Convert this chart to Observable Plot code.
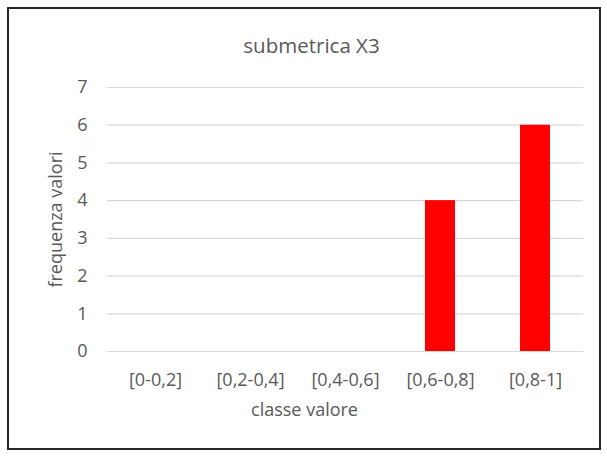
<!DOCTYPE html>
<html>
<head>
<meta charset="utf-8">
<script src="https://cdn.jsdelivr.net/npm/d3@7"></script>
<script src="https://cdn.jsdelivr.net/npm/@observablehq/plot@0.6"></script>
<style>
  html, body { margin: 0; padding: 0; background: #fff; }
  #wrap { position: relative; width: 607px; height: 457px; overflow: hidden; }
  #frame { position: absolute; left: 7px; top: 7px; width: 590px; height: 439px; border: 2px solid #262626; box-sizing: content-box; pointer-events: none; }
  #title { position: absolute; left: 8px; width: 607px; top: 30px; text-align: center; font-family: "Open Sans", sans-serif; font-size: 20.5px; line-height: 30px; color: #595959; }
  #chart { position: absolute; left: 0; top: 0; }
  #chart svg text { font-size: 18px; fill: #595959; }
</style>
</head>
<body>
<div id="wrap">
  <div id="chart"></div>
  <div id="title">submetrica X3</div>
  <div id="frame"></div>
</div>
<script>
const categories = ["[0-0,2]", "[0,2-0,4]", "[0,4-0,6]", "[0,6-0,8]", "[0,8-1]"];
const values = [0, 0, 0, 4, 6];
const yTicks = [0, 1, 2, 3, 4, 5, 6, 7];
const title = "submetrica X3";
const xLabel = "classe valore";
const yLabel = "frequenza valori";

const data = categories.map((c, i) => ({cat: c, val: values[i]}));

const chart = Plot.plot({
  width: 607,
  height: 457,
  marginTop: 87,
  marginBottom: 106,
  marginLeft: 107,
  marginRight: 24,
  style: {fontFamily: "'Open Sans', sans-serif", fontSize: "18px", color: "#595959", background: "transparent"},
  x: {domain: categories, paddingInner: 0.685, paddingOuter: 0.3425},
  y: {domain: [0, 7]},
  marks: [
    Plot.gridY(yTicks, {stroke: "#d9d9d9", strokeOpacity: 1, strokeWidth: 1.2}),
    Plot.barY(data, {x: "cat", y: "val", fill: "#ff0000"}),
    Plot.axisY({ticks: yTicks, tickFormat: "d", tickSize: 0, tickPadding: 20, label: yLabel, labelAnchor: "center", labelArrow: "none", labelOffset: 58}),
    Plot.axisX({tickSize: 0, tickPadding: 22, label: null}),
    Plot.text([xLabel], {frameAnchor: "bottom", dx: -41, dy: 64, fontSize: 18, fill: "#595959"})
  ]
});
document.getElementById("chart").appendChild(chart);
document.getElementById("title").textContent = title;
</script>
</body>
</html>
